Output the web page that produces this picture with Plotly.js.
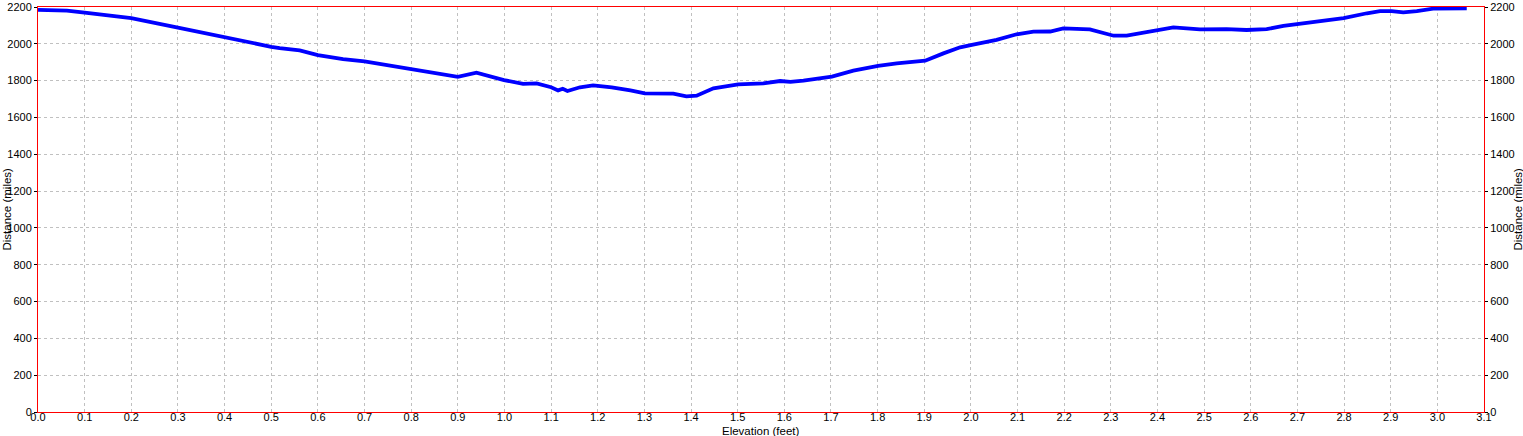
<!DOCTYPE html>
<html>
<head>
<meta charset="utf-8">
<script src="https://cdn.plot.ly/plotly-3.0.1.min.js"></script>
<style>html,body{margin:0;padding:0;background:#fff;}#chart{width:1523px;height:436px;}</style>
</head>
<body>
<div id="chart"></div>
<script>
const elevation = [0.0, 0.062, 0.1, 0.2, 0.3, 0.4, 0.5, 0.518, 0.561, 0.6, 0.654, 0.7, 0.8, 0.9, 0.94, 0.999, 1.04, 1.069, 1.1, 1.115, 1.125, 1.135, 1.162, 1.19, 1.2, 1.23, 1.27, 1.301, 1.362, 1.39, 1.412, 1.448, 1.501, 1.555, 1.591, 1.613, 1.641, 1.702, 1.748, 1.801, 1.841, 1.902, 1.941, 1.977, 2.002, 2.055, 2.098, 2.134, 2.17, 2.198, 2.255, 2.277, 2.306, 2.334, 2.37, 2.405, 2.434, 2.491, 2.548, 2.591, 2.634, 2.67, 2.706, 2.749, 2.799, 2.849, 2.877, 2.902, 2.927, 2.956, 2.991, 3.063];
const distance = [2184, 2180, 2169, 2139, 2088, 2034, 1984, 1976, 1964, 1939, 1917, 1905, 1863, 1821, 1843, 1803, 1782, 1785, 1764, 1747, 1756, 1744, 1764, 1774, 1772, 1764, 1747, 1731, 1729, 1715, 1718, 1758, 1780, 1785, 1798, 1793, 1800, 1822, 1854, 1880, 1894, 1908, 1948, 1981, 1994, 2021, 2052, 2066, 2067, 2084, 2078, 2062, 2044, 2044, 2062, 2078, 2089, 2078, 2080, 2075, 2080, 2097, 2108, 2120, 2139, 2166, 2178, 2178, 2171, 2178, 2191, 2193];
const xTicks = [0,0.1,0.2,0.3,0.4,0.5,0.6,0.7,0.8,0.9,1.0,1.1,1.2,1.3,1.4,1.5,1.6,1.7,1.8,1.9,2.0,2.1,2.2,2.3,2.4,2.5,2.6,2.7,2.8,2.9,3.0,3.1];
const xTickText = xTicks.map(v => v.toFixed(1));
const yTicks = [0,200,400,600,800,1000,1200,1400,1600,1800,2000,2200];
const xTitle = "Elevation (feet)";
const yTitle = "Distance (miles)";

const fam = "Liberation Sans, Arial, sans-serif";
const font = {family: fam, size: 11, color: "#000"};
const titleFont = {family: fam, size: 11.5, color: "#000"};
const trace = {x: elevation, y: distance, type: "scatter", mode: "lines", line: {color: "#0000ff", width: 3.8}, hoverinfo: "skip", showlegend: false};
const trace2 = {x: [0], y: [0], yaxis: "y2", type: "scatter", mode: "markers", marker: {opacity: 0}, hoverinfo: "skip", showlegend: false};

const layout = {
  width: 1523, height: 436,
  margin: {l: 38, r: 39, t: 7, b: 24, pad: 0},
  paper_bgcolor: "#fff", plot_bgcolor: "#fff",
  font: font,
  showlegend: false,
  xaxis: {range: [0, 3.1], tickvals: xTicks, ticktext: xTickText, showgrid: true, gridcolor: "#c0c0c0", griddash: "3px,3px", gridwidth: 1,
          zeroline: false, showline: true, linecolor: "#ff0000", linewidth: 1, mirror: true, ticks: "",
          tickfont: font, fixedrange: true},
  yaxis: {range: [0, 2200], tickvals: yTicks, showgrid: true, gridcolor: "#c0c0c0", griddash: "3px,3px", gridwidth: 1,
          zeroline: false, showline: true, linecolor: "#ff0000", linewidth: 1, mirror: true, ticks: "outside", ticklen: 3, tickcolor: "#000",
          tickfont: font, fixedrange: true},
  yaxis2: {range: [0, 2200], tickvals: yTicks, overlaying: "y", side: "right", showgrid: false, zeroline: false, showline: false,
          ticks: "outside", ticklen: 3, tickcolor: "#000", tickfont: font, fixedrange: true},
  annotations: [
    {text: xTitle, xref: "paper", yref: "paper", x: 0.5, y: 0, yshift: -11, xanchor: "center", yanchor: "top", showarrow: false, font: titleFont},
    {text: yTitle, xref: "paper", yref: "paper", x: 0, xshift: -32, y: 0.5, textangle: -90, xanchor: "center", yanchor: "middle", showarrow: false, font: titleFont},
    {text: yTitle, xref: "paper", yref: "paper", x: 1, xshift: 33, y: 0.5, textangle: -90, xanchor: "center", yanchor: "middle", showarrow: false, font: titleFont}
  ]
};
Plotly.newPlot("chart", [trace, trace2], layout, {staticPlot: true, displayModeBar: false}).then(function () {
  // nudge the x tick labels up so they sit right under the axis, as in the reference
  document.querySelectorAll("#chart .xtick text").forEach(function (t) {
    const y = parseFloat(t.getAttribute("y") || "0");
    t.setAttribute("y", String(y - 5));
  });
});
</script>
</body>
</html>
